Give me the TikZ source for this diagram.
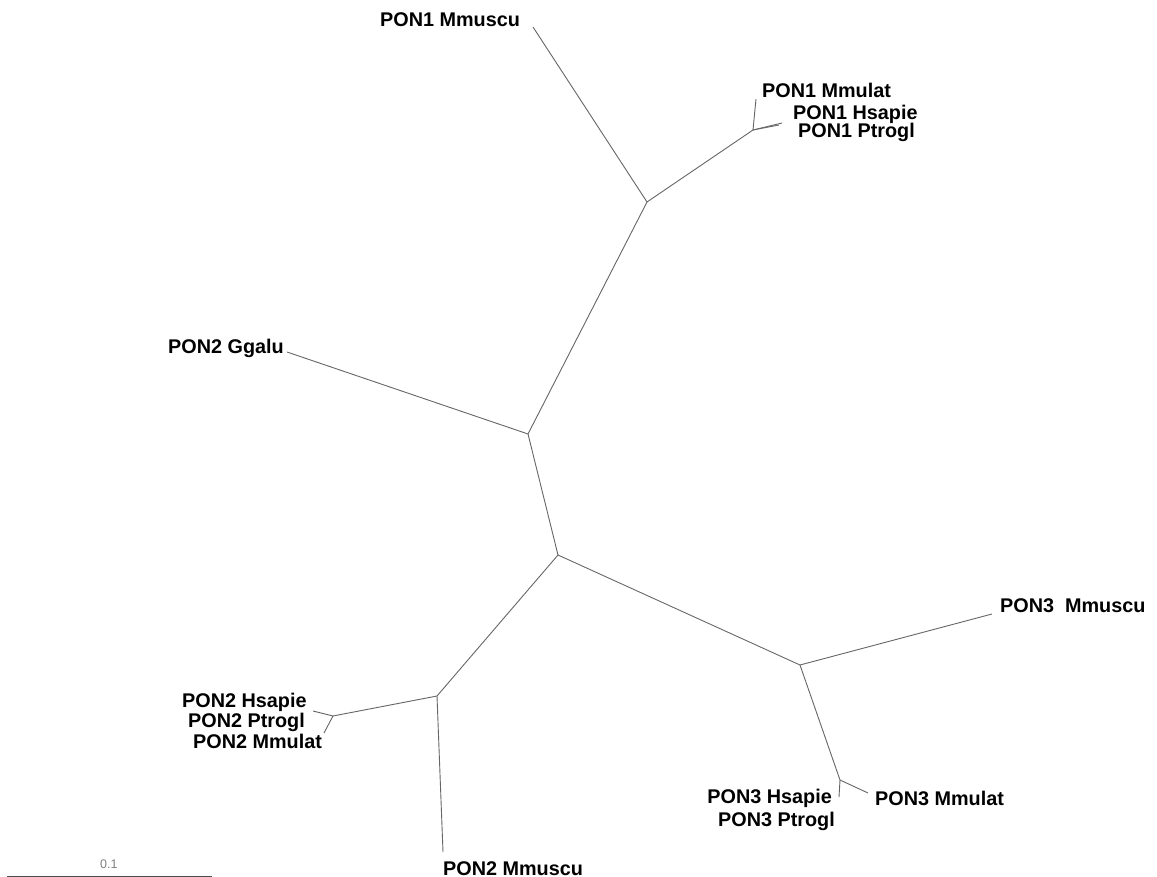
\documentclass[tikz,border=0pt]{standalone}
\usepackage{fontspec}
\setmainfont{Liberation Sans}
\begin{document}
\begin{tikzpicture}[x=1pt,y=-1pt,
  branch/.style={draw=black!60,line width=0.9pt},
  leaflabel/.style={inner sep=0pt,anchor=base west,font=\fontsize{19.8}{20}\selectfont\bfseries},
  scalelabel/.style={inner sep=0pt,anchor=base west,text=black!50,font=\fontsize{12.5}{13}\selectfont}]
\useasboundingbox[fill=white] (0,0) rectangle (1157,877);
% internal nodes and leaf ends
\coordinate (A) at (647,202);
\coordinate (B) at (753,130);
\coordinate (C) at (528,434);
\coordinate (D) at (558,555);
\coordinate (E) at (437,696);
\coordinate (F) at (333,716);
\coordinate (G) at (800,665);
\coordinate (H) at (840,780);
\coordinate (l1muscu) at (533,27);
\coordinate (l1mulat) at (756,99);
\coordinate (l1hsap) at (782,123);
\coordinate (l1ptro) at (779,125);
\coordinate (l2ggal) at (287,352);
\coordinate (l2hsap) at (313,711);
\coordinate (l2mulat) at (324,733);
\coordinate (l2muscu) at (443,852);
\coordinate (l3muscu) at (992,614);
\coordinate (l3hsap) at (839,797);
\coordinate (l3mulat) at (868,793);
\coordinate (sb1) at (7,876);
\coordinate (sb2) at (212,876);
% branches
\draw[branch] (A) -- (l1muscu);
\draw[branch] (A) -- (B);
\draw[branch] (B) -- (l1mulat);
\draw[branch] (B) -- (l1hsap);
\draw[branch] (B) -- (l1ptro);
\draw[branch] (A) -- (C);
\draw[branch] (C) -- (l2ggal);
\draw[branch] (C) -- (D);
\draw[branch] (D) -- (E);
\draw[branch] (E) -- (l2muscu);
\draw[branch] (E) -- (F);
\draw[branch] (F) -- (l2hsap);
\draw[branch] (F) -- (l2mulat);
\draw[branch] (D) -- (G);
\draw[branch] (G) -- (l3muscu);
\draw[branch] (G) -- (H);
\draw[branch] (H) -- (l3hsap);
\draw[branch] (H) -- (l3mulat);
% labels
\node[leaflabel] (t1muscu) at (380,27) {PON1 Mmuscu};
\node[leaflabel] (t1mulat) at (762,98) {PON1 Mmulat};
\node[leaflabel] (t1hsap) at (793,120) {PON1 Hsapie};
\node[leaflabel] (t1ptro) at (798,138) {PON1 Ptrogl};
\node[leaflabel] (t2ggal) at (168,354) {PON2 Ggalu};
\node[leaflabel] (t2hsap) at (182,707) {PON2 Hsapie};
\node[leaflabel] (t2ptro) at (188,727) {PON2 Ptrogl};
\node[leaflabel] (t2mulat) at (193,748) {PON2 Mmulat};
\node[leaflabel] (t2muscu) at (443,875) {PON2 Mmuscu};
\node[leaflabel] (t3muscu) at (1000,612) {PON3\ \ Mmuscu};
\node[leaflabel,anchor=base east] (t3hsap) at (832,803) {PON3 Hsapie};
\node[leaflabel,anchor=base east] (t3ptro) at (835,826) {PON3 Ptrogl};
\node[leaflabel] (t3mulat) at (875,805) {PON3 Mmulat};
% scale bar
\draw[draw=black!70,line width=1pt] (sb1) -- (sb2);
\node[scalelabel] (sblabel) at (100,868) {0.1};
\end{tikzpicture}
\end{document}
